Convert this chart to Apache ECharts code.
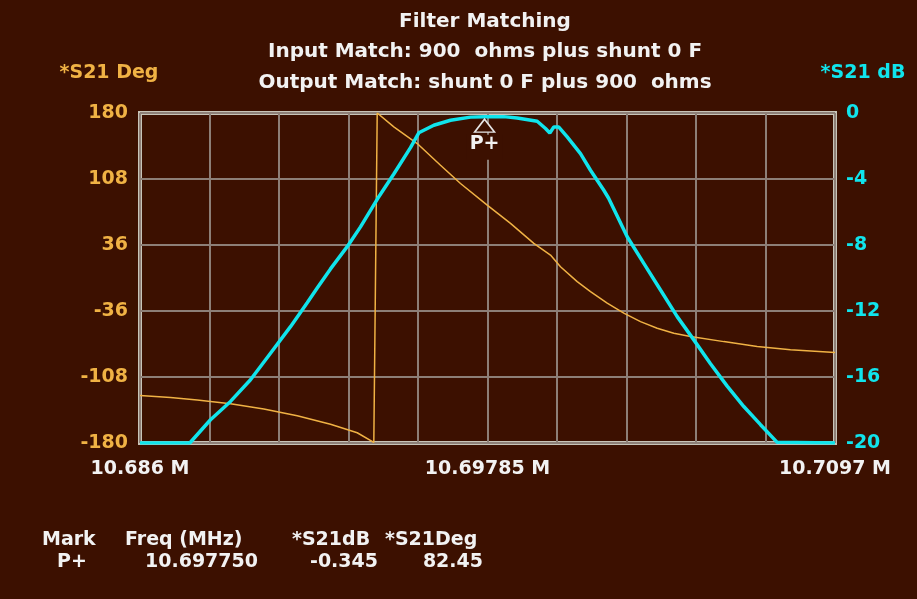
<!DOCTYPE html>
<html><head><meta charset="utf-8">
<script src="https://cdn.jsdelivr.net/npm/echarts@6/dist/echarts.min.js"></script>
<style>html,body{margin:0;padding:0;background:#3c1000;}#c{width:917px;height:599px;}</style>
</head><body><div id="c"></div>
<script>
// ---- data ----
const xTickLabels = ['10.686 M', '', '', '', '', '10.69785 M', '', '', '', '', '10.7097 M'];
const degTickLabels = ['-180', '-108', '-36', '36', '108', '180'];
const freqMin = 10.686, freqMax = 10.7097;

const dbFreq = [10.686000, 10.687698, 10.688404, 10.689086, 10.689768, 10.690450, 10.691132, 10.691702, 10.692043, 10.692496,
  10.693066, 10.693519, 10.694099, 10.694655, 10.695224, 10.695507, 10.696019, 10.696588, 10.697270, 10.697750,
  10.698406, 10.698863, 10.699545, 10.699828, 10.699975, 10.700111, 10.700281, 10.700568, 10.701021, 10.701362,
  10.701816, 10.701976, 10.702614, 10.703180, 10.703750, 10.704319, 10.704885, 10.705454, 10.706024, 10.706590,
  10.707160, 10.707729, 10.709700];
const s21dB = [-20, -20, -18.59, -17.48, -16.17, -14.56, -12.95, -11.5, -10.6, -9.45,
  -8.1, -6.9, -5.2, -3.7, -2.1, -1.2, -0.74, -0.44, -0.25, -0.22,
  -0.22, -0.3, -0.5, -0.94, -1.21, -0.85, -0.85, -1.45, -2.46, -3.47,
  -4.68, -5.15, -7.5, -9.11, -10.73, -12.34, -13.75, -15.2, -16.55, -17.79,
  -18.89, -19.96, -20];

const degFreq = [10.686000, 10.687040, 10.687951, 10.689086, 10.690222, 10.691361, 10.692496, 10.693407, 10.693973, 10.694014,
  10.694089, 10.694655, 10.695453, 10.696247, 10.696929, 10.697840, 10.698634, 10.699429, 10.699998, 10.700339,
  10.700909, 10.701362, 10.701932, 10.702498, 10.703068, 10.703637, 10.704203, 10.704773, 10.705908, 10.707047,
  10.708183, 10.709700];
const s21Deg = [-128.2, -130.3, -133.2, -137.2, -142.8, -150.3, -159.6, -168.8, -179.4, -180,
  180, 164.8, 146.7, 123, 103.1, 79.5, 59.6, 37.8, 25, 12.3,
  -4, -14.9, -27.5, -38.4, -47.6, -54.8, -60.3, -63.9, -69.4, -74.8,
  -78.4, -81.3];

const markerName = 'P+';
const markerFreq = 10.697750;
const markerDb = -0.345;
const markerDeg = 82.45;

const titleLines = ['Filter Matching', 'Input Match: 900  ohms plus shunt 0 F', 'Output Match: shunt 0 F plus 900  ohms'];
const tableHeader = ['Mark', 'Freq (MHz)', '*S21dB', '*S21Deg'];

// ---- styles ----
const BG = '#3c1000', ORANGE = '#f0b244', CYAN = '#10e4ec', GRIDC = '#8d7f77', BORDER = '#c8c4b8', WHITE = '#f2f2f2';
const FONT = '"DejaVu Sans", Verdana, sans-serif';
const font = (s) => 'bold ' + s + 'px ' + FONT;

const chart = echarts.init(document.getElementById('c'), null, {renderer: 'canvas'});

function txt(text, x, y, color, align, size) {
  return {type: 'text', x: x, y: y, silent: true,
    style: {text: text, fill: color, font: font(size || 19), align: align || 'left', verticalAlign: 'middle'}};
}

const tableRow = [markerName, markerFreq.toFixed(6), markerDb.toFixed(3), markerDeg.toFixed(2)];

chart.setOption({
  backgroundColor: BG,
  animation: false,
  grid: {left: 140, right: 82, top: 113, bottom: 156, show: true, borderColor: BORDER, borderWidth: 4, backgroundColor: 'transparent'},
  xAxis: [
    {type: 'value', min: freqMin, max: freqMax, show: false},
    {type: 'category', data: xTickLabels, boundaryGap: false, position: 'bottom',
      axisLine: {show: false}, axisTick: {show: false},
      axisLabel: {interval: 0, color: WHITE, fontFamily: FONT, fontWeight: 'bold', fontSize: 19, margin: 17},
      splitLine: {show: true, interval: 0, lineStyle: {color: GRIDC, width: 2}}}
  ],
  yAxis: [
    {type: 'category', data: degTickLabels, boundaryGap: false, position: 'left',
      axisLine: {show: false}, axisTick: {show: false},
      axisLabel: {interval: 0, color: ORANGE, fontFamily: FONT, fontWeight: 'bold', fontSize: 19, margin: 12},
      splitLine: {show: true, interval: 0, lineStyle: {color: GRIDC, width: 2}}},
    {type: 'value', min: -180, max: 180, show: false, position: 'left'},
    {type: 'value', min: -20, max: 0, interval: 4, position: 'right',
      axisLine: {show: false}, axisTick: {show: false}, splitLine: {show: false},
      axisLabel: {color: CYAN, fontFamily: FONT, fontWeight: 'bold', fontSize: 19, margin: 11}}
  ],
  series: [
    {type: 'line', name: '*S21 Deg', xAxisIndex: 0, yAxisIndex: 1, showSymbol: false, symbol: 'none',
      data: degFreq.map((f, i) => [f, s21Deg[i]]),
      lineStyle: {color: ORANGE, width: 1.5}},
    {type: 'line', name: '*S21 dB', xAxisIndex: 0, yAxisIndex: 2, showSymbol: false, symbol: 'none',
      data: dbFreq.map((f, i) => [f, s21dB[i]]),
      lineStyle: {color: CYAN, width: 3.5},
      markPoint: {
        symbol: 'triangle', symbolSize: [20, 13], symbolOffset: [0, 7],
        itemStyle: {color: BG, borderColor: '#e6e6e6', borderWidth: 1.5},
        label: {show: true, position: 'bottom', distance: 2, formatter: markerName, color: WHITE,
          fontFamily: FONT, fontWeight: 'bold', fontSize: 19, backgroundColor: BG, padding: [0, 3, 6, 3]},
        data: [{coord: [markerFreq, markerDb]}]
      }}
  ],
  graphic: [
    txt(titleLines[0], 485, 22, WHITE, 'center', 20),
    txt(titleLines[1], 485, 52, WHITE, 'center', 20),
    txt(titleLines[2], 485, 83, WHITE, 'center', 20),
    txt('*S21 Deg', 109, 73, ORANGE, 'center', 19),
    txt('*S21 dB', 863, 73, CYAN, 'center', 19),
    txt(tableHeader[0], 42, 540, WHITE, 'left'),
    txt(tableHeader[1], 125, 540, WHITE, 'left'),
    txt(tableHeader[2], 292, 540, WHITE, 'left'),
    txt(tableHeader[3], 385, 540, WHITE, 'left'),
    txt(tableRow[0], 57, 562, WHITE, 'left'),
    txt(tableRow[1], 258, 562, WHITE, 'right'),
    txt(tableRow[2], 378, 562, WHITE, 'right'),
    txt(tableRow[3], 483, 562, WHITE, 'right')
  ]
});
</script>
</body></html>
